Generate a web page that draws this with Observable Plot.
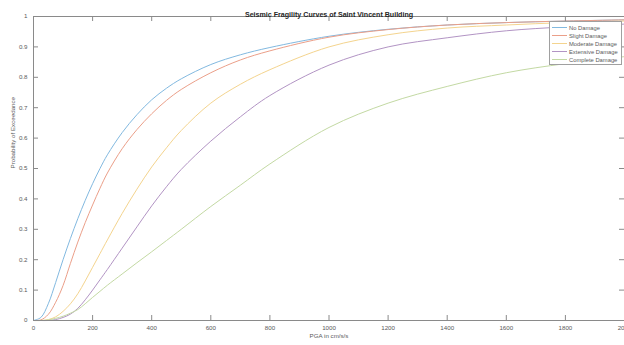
<!DOCTYPE html>
<html>
<head>
<meta charset="utf-8">
<script src="https://cdn.jsdelivr.net/npm/d3@7"></script>
<script src="https://cdn.jsdelivr.net/npm/@observablehq/plot@0.6"></script>
<style>
  body { margin: 0; background: #fff; }
  svg { display: block; }
</style>
</head>
<body>
<div id="chart"></div>
<script>
const title = "Seismic Fragility Curves of Saint Vincent Building";
const xLabel = "PGA in cm/s/s";
const yLabel = "Probability of Exceedance";
const seriesNames = ["No Damage", "Slight Damage", "Moderate Damage", "Extensive Damage", "Complete Damage"];
const seriesColors = ["#82b9e0", "#eb9f89", "#f4d48e", "#b294c4", "#c3d9a3"];
const xTicks = [0, 200, 400, 600, 800, 1000, 1200, 1400, 1600, 1800, 2000];
const yTicks = [0, 0.1, 0.2, 0.3, 0.4, 0.5, 0.6, 0.7, 0.8, 0.9, 1];

const pga = [0, 25, 50, 75, 100, 125, 150, 175, 200, 225, 250, 300, 350, 400, 450, 500, 600, 700, 800, 1000, 1200, 1400, 1600, 1800, 2000];
const noDamage        = [0, 0.010, 0.055, 0.125, 0.200, 0.270, 0.335, 0.395, 0.450, 0.500, 0.545, 0.618, 0.677, 0.726, 0.764, 0.795, 0.842, 0.874, 0.898, 0.935, 0.958, 0.972, 0.980, 0.985, 0.989];
const slightDamage    = [0, 0.002, 0.020, 0.060, 0.115, 0.188, 0.258, 0.322, 0.380, 0.435, 0.485, 0.565, 0.628, 0.680, 0.724, 0.760, 0.815, 0.857, 0.887, 0.932, 0.957, 0.972, 0.980, 0.985, 0.989];
const moderateDamage  = [0, 0.000, 0.003, 0.012, 0.030, 0.055, 0.088, 0.130, 0.175, 0.220, 0.265, 0.352, 0.432, 0.505, 0.568, 0.625, 0.715, 0.777, 0.825, 0.900, 0.940, 0.962, 0.972, 0.980, 0.985];
const extensiveDamage = [0, 0.000, 0.000, 0.003, 0.010, 0.021, 0.040, 0.068, 0.100, 0.134, 0.168, 0.238, 0.308, 0.377, 0.440, 0.497, 0.590, 0.670, 0.740, 0.840, 0.900, 0.930, 0.953, 0.966, 0.975];
const completeDamage  = [0, 0.000, 0.002, 0.007, 0.014, 0.024, 0.036, 0.055, 0.076, 0.096, 0.116, 0.153, 0.190, 0.226, 0.263, 0.300, 0.375, 0.445, 0.515, 0.635, 0.715, 0.770, 0.815, 0.845, 0.868];

const seriesValues = [noDamage, slightDamage, moderateDamage, extensiveDamage, completeDamage];
const rows = [];
seriesNames.forEach((name, i) => {
  pga.forEach((x, j) => rows.push({series: name, x, y: seriesValues[i][j]}));
});

const font = "'Liberation Sans', Arial, Helvetica, sans-serif";
const axisColor = "#8a8a8a";
const textColor = "#5a5a5a";
const tickY = 5 / 304;
const tickX = 5 / (591 / 2000);

const plot = Plot.plot({
  width: 624,
  height: 345,
  marginLeft: 33,
  marginRight: 0,
  marginTop: 16,
  marginBottom: 25,
  style: {fontFamily: font, fontSize: "6.2px", color: textColor, background: "#fff", overflow: "visible"},
  x: {domain: [0, 2000], ticks: xTicks, label: null},
  y: {domain: [0, 1], ticks: yTicks, label: null},
  color: {domain: seriesNames, range: seriesColors},
  marks: [
    Plot.line(rows, {x: "x", y: "y", stroke: "series", strokeWidth: 1, curve: "catmull-rom"}),
    Plot.frame({stroke: axisColor, strokeWidth: 1}),
    Plot.ruleX(xTicks, {x: d => d, y1: 0, y2: tickY, stroke: axisColor}),
    Plot.ruleX(xTicks, {x: d => d, y1: 1 - tickY, y2: 1, stroke: axisColor}),
    Plot.ruleY(yTicks, {y: d => d, x1: 0, x2: tickX, stroke: axisColor}),
    Plot.ruleY(yTicks, {y: d => d, x1: 2000 - tickX, x2: 2000, stroke: axisColor}),
    Plot.axisX({ticks: xTicks, tickSize: 0, tickPadding: 5, tickFormat: d => String(d), label: null, fill: textColor}),
    Plot.axisY({ticks: yTicks, tickSize: 0, tickPadding: 6, tickFormat: d => String(d), label: null, fill: textColor}),
    Plot.text([title], {text: d => d, frameAnchor: "top", dy: -5, fontWeight: "bold", fontSize: 7.1, fill: "#262626"}),
    Plot.text([xLabel], {text: d => d, frameAnchor: "bottom", dy: 17, fontSize: 6.2, fill: textColor}),
    Plot.text([yLabel], {text: d => d, frameAnchor: "left", dx: -20, rotate: -90, fontSize: 6.2, fill: textColor})
  ]
});

document.getElementById("chart").append(plot);

// Legend (MATLAB style box, top-right inside axes)
const svg = d3.select(plot);
const lg = svg.append("g")
  .attr("font-family", font)
  .attr("font-size", "5.8px")
  .attr("text-anchor", "start");
lg.append("rect")
  .attr("x", 549.5).attr("y", 21.5).attr("width", 72).attr("height", 43)
  .attr("fill", "#fff").attr("stroke", "#a0a0a0").attr("stroke-width", 1);
seriesNames.forEach((name, i) => {
  const y = 27.5 + i * 8;
  lg.append("line")
    .attr("x1", 552).attr("x2", 567).attr("y1", y).attr("y2", y)
    .attr("stroke", seriesColors[i]).attr("stroke-width", 1);
  lg.append("text")
    .attr("x", 569).attr("y", y).attr("dy", "0.35em")
    .attr("text-anchor", "start")
    .attr("fill", textColor).text(name);
});
</script>
</body>
</html>
